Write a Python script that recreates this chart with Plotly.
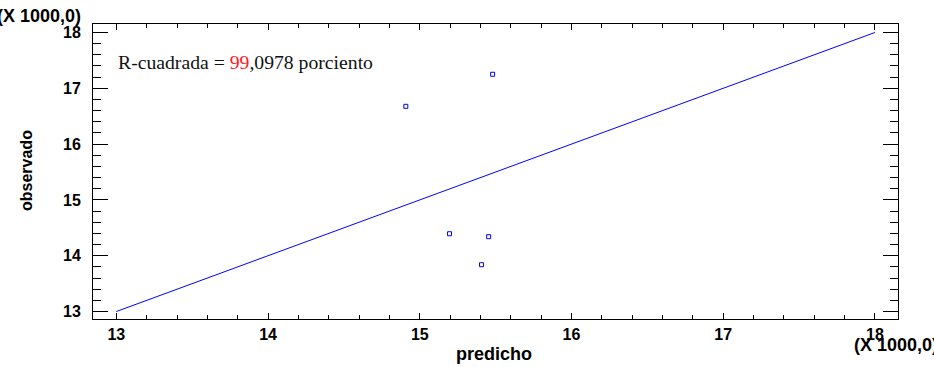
import plotly.graph_objects as go

# Predicted vs observed values, in thousands
predicho = [15.480, 14.908, 15.196, 15.454, 15.407]
observado = [17.251, 16.677, 14.394, 14.341, 13.839]

# Identity reference line
linea_x = [13, 18]
linea_y = [13, 18]

tick_vals = [13, 14, 15, 16, 17, 18]
tick_text = ["13", "14", "15", "16", "17", "18"]

r2_entero = "99"
r2_decimal = ",0978"

W, H = 934, 367
L, R, T, B = 93, 36, 24, 48
PW, PH = W - L - R, H - T - B


def px(x):
    return (x - L) / PW


def py(y):
    return (H - B - y) / PH


tick_font = dict(family="Liberation Sans, Arial", size=16, color="black", weight="bold")
scale_font = dict(family="Liberation Sans, Arial", size=18, color="black", weight="bold")

fig = go.Figure()
fig.add_trace(go.Scatter(
    x=linea_x, y=linea_y, mode="lines",
    line=dict(color="#0000ff", width=1), hoverinfo="skip", showlegend=False,
))
fig.add_trace(go.Scatter(
    x=predicho, y=observado, mode="markers",
    marker=dict(symbol="square-open", size=4, color="#0000ff", line=dict(width=1, color="#0000ff")),
    showlegend=False,
))

axis_common = dict(
    showgrid=False, zeroline=False, showline=True, linecolor="black", linewidth=1,
    mirror="allticks", ticks="inside", tickcolor="black", tickwidth=1,
    tickvals=tick_vals, ticktext=tick_text, tickfont=tick_font,
)

fig.update_xaxes(
    range=[12.846, 18.152], ticklen=6,
    minor=dict(dtick=0.2, ticks="inside", ticklen=4, tickcolor="black", showgrid=False),
    ticklabelstandoff=1,
    **axis_common,
)
fig.update_yaxes(
    range=[12.866, 18.152], ticklen=15,
    minor=dict(dtick=0.2, ticks="inside", ticklen=8, tickcolor="black", showgrid=False),
    ticklabelstandoff=8,
    **axis_common,
)

title_font = dict(family="Liberation Sans, Arial", size=16, color="black", weight="bold")

fig.update_layout(
    width=W, height=H,
    margin=dict(l=L, r=R, t=T, b=B),
    plot_bgcolor="white", paper_bgcolor="white",
    annotations=[
        dict(text="predicho", x=px(494), y=py(354), xref="paper", yref="paper",
             xanchor="center", yanchor="middle", showarrow=False,
             font=dict(title_font, size=18)),
        dict(text="observado", x=px(26), y=py(171), xref="paper", yref="paper",
             xanchor="center", yanchor="middle", textangle=-90, showarrow=False, font=title_font),
        dict(text="(X 1000,0)", x=px(83), y=py(16), xref="paper", yref="paper",
             xanchor="right", yanchor="middle", showarrow=False, font=scale_font),
        dict(text="(X 1000,0)", x=px(852), y=py(345), xref="paper", yref="paper",
             xanchor="left", yanchor="middle", showarrow=False, font=scale_font),
        dict(text=f"R-cuadrada = <span style='color:#ff2020'>{r2_entero}</span>{r2_decimal} porciento",
             x=px(116), y=py(62), xref="paper", yref="paper",
             xanchor="left", yanchor="middle", showarrow=False,
             font=dict(family="Liberation Serif, Times New Roman", size=19.7, color="#111111")),
    ],
)

fig.write_html("out.html")
